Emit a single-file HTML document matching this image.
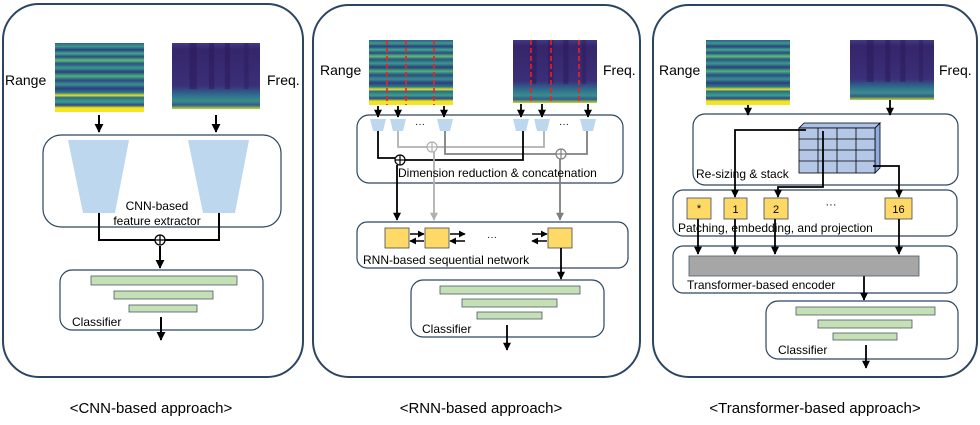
<!DOCTYPE html>
<html><head><meta charset="utf-8"><style>
html,body{margin:0;padding:0;background:#fff;}
svg{display:block;font-family:"Liberation Sans",sans-serif;}
</style></head><body>
<svg width="980" height="425" viewBox="0 0 980 425" xmlns="http://www.w3.org/2000/svg">
<defs>
<linearGradient id="rg" x1="0" y1="0" x2="0" y2="1">
<stop offset="0" stop-color="#2f5f8e"/><stop offset="0.05" stop-color="#3a9a8a"/>
<stop offset="0.1" stop-color="#2c3f80"/><stop offset="0.15" stop-color="#40a88a"/>
<stop offset="0.2" stop-color="#2a4a86"/><stop offset="0.25" stop-color="#5cc070"/>
<stop offset="0.3" stop-color="#2d5088"/><stop offset="0.36" stop-color="#3a9a8c"/>
<stop offset="0.42" stop-color="#2b3e7e"/><stop offset="0.48" stop-color="#4ab47a"/>
<stop offset="0.54" stop-color="#2c4c88"/><stop offset="0.6" stop-color="#3b8e8c"/>
<stop offset="0.66" stop-color="#2a3f7e"/><stop offset="0.72" stop-color="#2e7a8c"/>
<stop offset="0.76" stop-color="#e8e21e"/><stop offset="0.79" stop-color="#2e6a8a"/>
<stop offset="0.85" stop-color="#3aa08a"/><stop offset="0.9" stop-color="#2a4a86"/>
<stop offset="0.94" stop-color="#f0e420"/><stop offset="1" stop-color="#f5e61f"/>
</linearGradient>
<linearGradient id="fg" x1="0" y1="0" x2="0" y2="1">
<stop offset="0" stop-color="#3f3a86"/><stop offset="0.1" stop-color="#36256a"/>
<stop offset="0.65" stop-color="#3a2f78"/><stop offset="0.78" stop-color="#2f6a8e"/>
<stop offset="0.88" stop-color="#3a8c8c"/><stop offset="0.94" stop-color="#2e5e8c"/>
<stop offset="1" stop-color="#c8d830"/>
</linearGradient>
<g id="fb">
<rect x="0.2" y="0" width="0.08" height="0.7" fill="#2a1858" opacity="0.5"/>
<rect x="0.42" y="0" width="0.06" height="0.7" fill="#2a1858" opacity="0.5"/>
<rect x="0.6" y="0" width="0.06" height="0.7" fill="#2a1858" opacity="0.5"/>
<rect x="0.82" y="0" width="0.05" height="0.7" fill="#2a1858" opacity="0.4"/>
</g>
<marker id="ah" viewBox="0 0 10 10" refX="9" refY="5" markerWidth="4.5" markerHeight="4.5" orient="auto"><path d="M0,0L10,5L0,10z" fill="#000"/></marker>
<marker id="ahl" viewBox="0 0 10 10" refX="9" refY="5" markerWidth="4.5" markerHeight="4.5" orient="auto"><path d="M0,0L10,5L0,10z" fill="#b0b0b0"/></marker>
<marker id="ahg" viewBox="0 0 10 10" refX="9" refY="5" markerWidth="4.5" markerHeight="4.5" orient="auto"><path d="M0,0L10,5L0,10z" fill="#808080"/></marker>
</defs>

<g fill="none" stroke="#2c4560" stroke-width="2">
<rect x="3" y="4" width="300" height="373" rx="36"/>
<rect x="313" y="5" width="327" height="372" rx="36"/>
<rect x="653" y="5" width="324" height="372" rx="36"/>
</g>
<g fill="#fff" stroke="#2c4560" stroke-width="1.2">
<rect x="43" y="135" width="238" height="92" rx="18"/>
<rect x="60" y="270" width="203" height="60" rx="12"/>
<rect x="357" y="115" width="266" height="68" rx="12"/>
<rect x="357" y="222" width="271" height="46" rx="10"/>
<rect x="411" y="280" width="193" height="57" rx="12"/>
<rect x="693" y="114" width="265" height="71" rx="12"/>
<rect x="673" y="190" width="284" height="46" rx="10"/>
<rect x="673" y="246" width="284" height="47" rx="10"/>
<rect x="766" y="301" width="192" height="58" rx="12"/>
</g>

<rect x="55" y="43" width="89" height="69" fill="url(#rg)"/>
<g transform="translate(172,43) scale(88,66)"><rect width="1" height="1" fill="url(#fg)"/><use href="#fb"/></g>
<rect x="369" y="40" width="84" height="65" fill="url(#rg)"/>
<g transform="translate(513,40) scale(84,63)"><rect width="1" height="1" fill="url(#fg)"/><use href="#fb"/></g>
<rect x="706" y="40" width="84" height="65" fill="url(#rg)"/>
<g transform="translate(850,40) scale(84,60)"><rect width="1" height="1" fill="url(#fg)"/><use href="#fb"/></g>
<g stroke="#ff1a1a" stroke-width="1.6" stroke-dasharray="5,3">
<line x1="387" y1="40" x2="387" y2="105"/><line x1="406" y1="40" x2="406" y2="105"/><line x1="434" y1="40" x2="434" y2="105"/>
<line x1="531" y1="40" x2="531" y2="103"/><line x1="551" y1="40" x2="551" y2="103"/><line x1="579" y1="40" x2="579" y2="103"/>
</g>

<g font-size="14" fill="#000">
<text x="5" y="85">Range</text><text x="267" y="85">Freq.</text>
<text x="320" y="75">Range</text><text x="603" y="75">Freq.</text>
<text x="659" y="75">Range</text><text x="939" y="75">Freq.</text>
</g>

<g stroke="#000" stroke-width="2" fill="none">
<line x1="99" y1="115" x2="99" y2="132" marker-end="url(#ah)"/>
<line x1="216" y1="115" x2="216" y2="132" marker-end="url(#ah)"/>
</g>
<polygon points="68,140 129,140 115,213 83,213" fill="#bdd7ee"/>
<polygon points="188,140 249,140 235,213 203,213" fill="#bdd7ee"/>
<text x="157" y="210" font-size="12" text-anchor="middle">CNN-based</text>
<text x="157" y="225" font-size="12" text-anchor="middle">feature extractor</text>
<g stroke="#000" stroke-width="2" fill="none">
<polyline points="99,213 99,240 155,240"/><polyline points="219,213 219,240 165,240"/>
<circle cx="160" cy="240" r="5" stroke-width="1.3"/><line x1="155" y1="240" x2="165" y2="240" stroke-width="1.3"/><line x1="160" y1="235" x2="160" y2="245" stroke-width="1.3"/>
<line x1="160" y1="246" x2="160" y2="268" marker-end="url(#ah)"/>
<line x1="161" y1="317" x2="161" y2="340" marker-end="url(#ah)"/>
</g>
<g fill="#c5e0b4" stroke="#4a5a6a" stroke-width="0.8">
<rect x="91" y="276" width="146" height="9"/><rect x="114" y="291" width="99" height="8"/><rect x="129" y="305" width="68" height="7"/>
</g>
<text x="72" y="326" font-size="12">Classifier</text>

<g stroke="#000" stroke-width="1.8" fill="none">
<line x1="378" y1="106" x2="378" y2="117" marker-end="url(#ah)"/><line x1="398" y1="106" x2="398" y2="117" marker-end="url(#ah)"/><line x1="444" y1="106" x2="444" y2="117" marker-end="url(#ah)"/>
<line x1="521" y1="104" x2="521" y2="117" marker-end="url(#ah)"/><line x1="542" y1="104" x2="542" y2="117" marker-end="url(#ah)"/><line x1="588" y1="104" x2="588" y2="117" marker-end="url(#ah)"/>
</g>
<g fill="#bdd7ee">
<polygon points="370,119 386,119 383,131 373,131"/><polygon points="390,119 406,119 403,131 393,131"/><polygon points="437,119 453,119 450,131 440,131"/>
<polygon points="513,119 529,119 526,131 516,131"/><polygon points="534,119 550,119 547,131 537,131"/><polygon points="580,119 596,119 593,131 583,131"/>
</g>
<text x="420" y="127" font-size="10" text-anchor="middle">···</text><text x="564" y="127" font-size="10" text-anchor="middle">···</text>
<g fill="none" stroke-width="1.8">
<polyline points="398,131 398,147 427,147" stroke="#b0b0b0"/><polyline points="437,147 544,147 544,131" stroke="#b0b0b0"/>
<circle cx="432" cy="147" r="5" stroke="#b0b0b0" stroke-width="1.2"/><path d="M427,147H437M432,142V152" stroke="#b0b0b0" stroke-width="1.2"/>
<polyline points="445,131 445,154 556,154" stroke="#808080"/><polyline points="566,154 587,154 587,131" stroke="#808080"/>
<circle cx="561" cy="154" r="5" stroke="#808080" stroke-width="1.2"/><path d="M556,154H566M561,149V159" stroke="#808080" stroke-width="1.2"/>
<polyline points="378,131 378,158 395,158" stroke="#000"/><polyline points="405,160 523,160 523,131" stroke="#000"/>
<circle cx="400" cy="160" r="5" stroke="#000" stroke-width="1.2"/><path d="M395,160H405M400,155V165" stroke="#000" stroke-width="1.2"/>
<line x1="397" y1="165" x2="397" y2="220" stroke="#000" marker-end="url(#ah)"/>
<line x1="434" y1="152" x2="434" y2="220" stroke="#b0b0b0" marker-end="url(#ahl)"/>
<line x1="560" y1="159" x2="560" y2="220" stroke="#808080" marker-end="url(#ahg)"/>
</g>
<text x="398" y="177" font-size="12">Dimension reduction &amp; concatenation</text>
<g fill="#ffd966" stroke="#3a4a5a" stroke-width="0.8">
<rect x="385" y="228" width="24" height="20"/><rect x="425" y="228" width="24" height="20"/><rect x="548" y="228" width="24" height="20"/>
</g>
<g stroke="#000" stroke-width="1.5" fill="none">
<line x1="410" y1="234" x2="424" y2="234" marker-end="url(#ah)"/><line x1="424" y1="241" x2="410" y2="241" marker-end="url(#ah)"/>
<line x1="450" y1="234" x2="465" y2="234" marker-end="url(#ah)"/><line x1="465" y1="241" x2="450" y2="241" marker-end="url(#ah)"/>
<line x1="532" y1="234" x2="547" y2="234" marker-end="url(#ah)"/><line x1="547" y1="241" x2="532" y2="241" marker-end="url(#ah)"/>
<line x1="561" y1="248" x2="561" y2="279" stroke-width="1.8" marker-end="url(#ah)"/>
<line x1="507" y1="325" x2="507" y2="350" stroke-width="1.8" marker-end="url(#ah)"/>
</g>
<text x="492" y="240" font-size="10" text-anchor="middle">···</text>
<text x="363" y="264" font-size="12">RNN-based sequential network</text>
<g fill="#c5e0b4" stroke="#4a5a6a" stroke-width="0.8">
<rect x="440" y="286" width="140" height="8"/><rect x="462" y="299" width="95" height="8"/><rect x="477" y="312" width="65" height="7"/>
</g>
<text x="422" y="333" font-size="12">Classifier</text>

<g stroke="#000" stroke-width="1.8" fill="none">
<line x1="748" y1="105" x2="748" y2="115" marker-end="url(#ah)"/><line x1="890" y1="100" x2="890" y2="115" marker-end="url(#ah)"/>
</g>
<polygon points="875,128 880,123 880,168 875,173" fill="#8faadc" stroke="#000" stroke-width="0.8"/>
<polygon points="799,128 804,123 880,123 875,128" fill="#a9c0e8" stroke="#000" stroke-width="0.8"/>
<rect x="799" y="128" width="76" height="45" fill="#b4c7e7" stroke="#000" stroke-width="0.8"/>
<g stroke="#000" stroke-width="0.8">
<line x1="818" y1="128" x2="818" y2="173"/><line x1="837" y1="128" x2="837" y2="173"/><line x1="856" y1="128" x2="856" y2="173"/>
<line x1="799" y1="139" x2="875" y2="139"/><line x1="799" y1="150" x2="875" y2="150"/><line x1="799" y1="161" x2="875" y2="161"/>
</g>
<g stroke="#000" stroke-width="1.8" fill="none">
<polyline points="806,130 735,130 735,197" marker-end="url(#ah)"/>
<polyline points="823,131 823,187 778,187 778,197" marker-end="url(#ah)"/>
<polyline points="873,166 899,166 899,197" marker-end="url(#ah)"/>
</g>
<text x="696" y="178" font-size="12">Re-sizing &amp; stack</text>
<g fill="#ffd966" stroke="#3a4a5a" stroke-width="0.8">
<rect x="687" y="198" width="24" height="21"/><rect x="724" y="198" width="23" height="21"/><rect x="764" y="198" width="24" height="21"/><rect x="885" y="198" width="27" height="21"/>
</g>
<g font-size="11" text-anchor="middle">
<text x="699" y="212">*</text><text x="735.5" y="213">1</text><text x="776" y="213">2</text><text x="898.5" y="213">16</text>
<text x="831" y="208">···</text>
</g>
<text x="678" y="232" font-size="12">Patching, embedding, and projection</text>
<g stroke="#000" stroke-width="1.8" fill="none">
<line x1="698" y1="219" x2="698" y2="254" marker-end="url(#ah)"/><line x1="735" y1="219" x2="735" y2="254" marker-end="url(#ah)"/>
<line x1="775" y1="219" x2="775" y2="254" marker-end="url(#ah)"/><line x1="899" y1="219" x2="899" y2="254" marker-end="url(#ah)"/>
<line x1="864" y1="276" x2="864" y2="300" marker-end="url(#ah)"/>
<line x1="866" y1="345" x2="866" y2="368" marker-end="url(#ah)"/>
</g>
<rect x="689" y="256" width="230" height="20" fill="#a6a6a6" stroke="#4a5a6a" stroke-width="0.8"/>
<text x="687" y="289" font-size="12">Transformer-based encoder</text>
<g fill="#c5e0b4" stroke="#4a5a6a" stroke-width="0.8">
<rect x="796" y="307" width="139" height="8"/><rect x="818" y="320" width="94" height="8"/><rect x="833" y="333" width="64" height="7"/>
</g>
<text x="778" y="354" font-size="12">Classifier</text>

<g font-size="15" text-anchor="middle">
<text x="151" y="413">&lt;CNN-based approach&gt;</text>
<text x="481" y="413">&lt;RNN-based approach&gt;</text>
<text x="815" y="413">&lt;Transformer-based approach&gt;</text>
</g>
</svg>
</body></html>
